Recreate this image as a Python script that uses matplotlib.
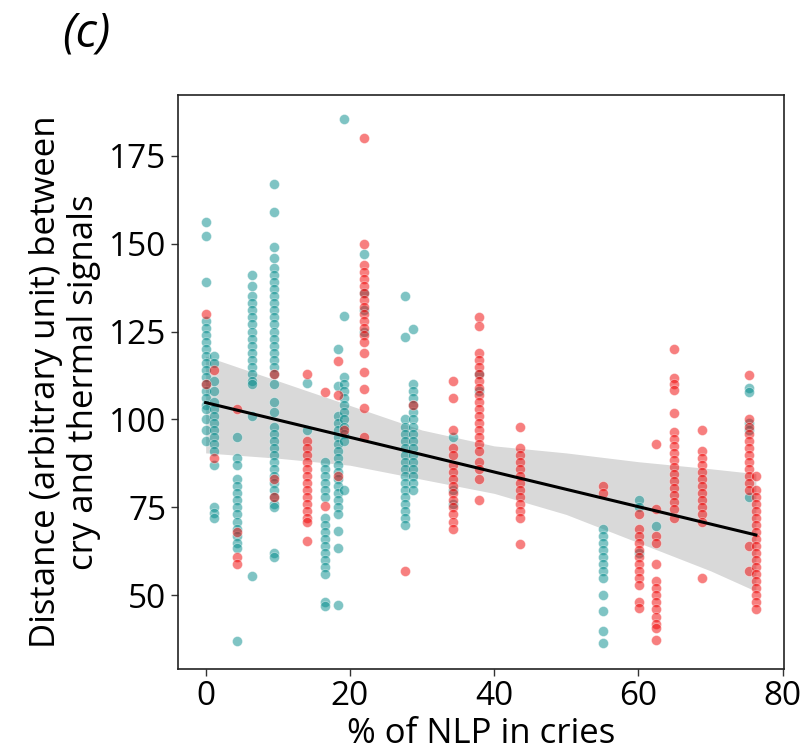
import matplotlib
matplotlib.use("Agg")
import matplotlib.pyplot as plt
import numpy as np

# ---- data ----
x_cols = [0.0, 1.2, 4.4, 6.4, 9.5, 14.1, 16.6, 18.4, 19.2, 21.9, 27.7,
          28.8, 34.3, 37.9, 43.6, 55.1, 60.1, 62.4, 64.9, 68.8, 75.4, 76.3]

teal_by_col = [
    [156, 152, 139, 128, 126, 124, 122, 120, 118, 116, 114, 112, 110, 108, 106, 104, 103, 100, 97, 94],
    [118, 116, 111, 108, 105, 103, 101, 99, 97, 95, 93, 91, 87, 75, 73.5, 72],
    [95, 89, 87, 83, 81, 79, 77, 75, 73, 71, 69, 67, 65, 63.5, 37],
    [141, 138, 135, 133, 131, 129, 127, 125, 123, 121, 119, 117, 115, 113, 111, 110, 101, 55.5],
    [167, 159, 149, 146, 143, 141, 139, 137, 135, 133, 131, 129, 127, 125, 123, 121, 119, 117, 115,
     113, 110, 105, 102, 98, 96, 94, 92, 90, 88, 86, 84, 82, 80, 78, 76, 75, 62, 61],
    [110.5, 97],
    [88, 86, 84, 82, 80, 78, 72, 70, 68, 66, 64, 62, 60, 58, 56, 48, 47],
    [120, 109.5, 101, 99, 97, 95, 93, 91, 89, 87, 85, 83, 81, 79, 77, 75, 73, 68.4, 63.6, 47.2],
    [185.5, 129.5, 112, 110, 108, 106, 104, 102, 100, 98, 96, 94, 80],
    [147, 136, 131, 125],
    [135, 123.4, 100, 98, 96, 94, 92, 90, 88, 86, 84, 82, 80, 78, 76, 74, 72, 70],
    [125.7, 110, 108, 106, 104, 102, 100, 98, 96, 94, 92, 90, 88, 86, 84, 82, 80],
    [95, 80, 76],
    [113, 108],
    [],
    [69, 67, 65, 63, 61, 59, 57, 55, 50, 45.5, 40, 36.5],
    [77, 75, 62],
    [69.6],
    [],
    [],
    [108.9, 107.9, 99, 97, 78],
    [],
]

red_by_col = [
    [130, 110],
    [114, 89],
    [103, 68, 61, 59],
    [],
    [113, 83, 78],
    [113, 94, 92, 90, 88, 86, 84, 82, 80, 78, 76, 74, 72, 71, 65.5],
    [107.9, 75.5],
    [116.6, 107, 84],
    [97],
    [180, 150, 144, 142, 140, 138, 136, 134, 132, 130, 128, 126, 124, 122, 119, 113.4, 108.7, 103.4, 95],
    [57],
    [104],
    [111, 106, 97, 92, 90, 87, 85, 83, 81, 79, 77, 75, 73, 71, 69],
    [129, 126.5, 119, 117, 115, 113, 111, 109, 107, 105, 103, 101, 99, 97, 95, 93, 91, 88, 86, 83, 77],
    [98, 92, 90, 88, 86, 84, 82, 80, 78, 76, 74, 72, 64.6],
    [81, 79],
    [73, 69, 67, 65, 63, 61, 59, 57, 55, 53, 48, 46.5],
    [93, 74.6, 67, 65, 59, 54, 52, 50, 48, 46, 44, 42, 40.8, 37.4],
    [120, 111.7, 110, 108.4, 101.8, 96.5, 94.5, 92.5, 90.5, 88.5, 86.5, 84.5, 82.5, 80.5, 78.5, 76.5, 74.5, 72],
    [97, 91, 89, 87, 85, 83, 81, 79, 77, 75, 73, 71, 55],
    [112.7, 100, 98, 96, 94, 92, 90, 88, 86, 84, 82, 80, 64, 57],
    [84, 80, 78, 76, 74, 72, 70, 68, 66, 64, 62, 60, 58, 56, 54, 52, 50, 48, 46],
]

# regression line (read) and its confidence band
fit_intercept = 104.8
fit_slope = -0.493
fit_x_range = [0.0, 76.3]
band_x = [0, 10, 20, 30, 40, 50, 60, 70, 76.3]
band_hi = [118, 111, 104, 97, 92.5, 90.5, 88, 86, 84.6]
band_lo = [90.5, 89, 87, 83, 79, 73, 65, 57, 51.2]

title_text = "(c)"
x_label = "% of NLP in cries"
y_label = "Distance (arbitrary unit) between\ncry and thermal signals"
x_ticks = [0, 20, 40, 60, 80]
y_ticks = [50, 75, 100, 125, 150, 175]

# ---- drawing ----
plt.rcParams['font.family'] = ['Open Sans', 'DejaVu Sans']

fig = plt.figure(figsize=(8.08, 7.53), dpi=100)
ax = fig.add_axes([0.2197, 0.1116, 0.7506, 0.7622])

teal_x = np.concatenate([[x] * len(v) for x, v in zip(x_cols, teal_by_col)])
teal_y = np.concatenate([np.asarray(v, float) for v in teal_by_col])
red_x = np.concatenate([[x] * len(v) for x, v in zip(x_cols, red_by_col)])
red_y = np.concatenate([np.asarray(v, float) for v in red_by_col])

ax.fill_between(band_x, band_lo, band_hi, color='black', alpha=0.15,
                linewidth=0, zorder=1)
ax.scatter(teal_x, teal_y, s=52, color='#008b8b', alpha=0.5,
           edgecolors='white', linewidths=0.5, zorder=2)
ax.scatter(red_x, red_y, s=52, color='#f00000', alpha=0.5,
           edgecolors='white', linewidths=0.5, zorder=2)
fx = np.array(fit_x_range)
ax.plot(fx, fit_intercept + fit_slope * fx, color='black', lw=2.2, zorder=3)

ax.set_xlim(-3.9, 80.2)
ax.set_ylim(29.1, 192.2)
ax.set_xticks(x_ticks)
ax.set_yticks(y_ticks)
ax.tick_params(labelsize=24, length=5, width=1, color='#333333', pad=3)
for sp in ax.spines.values():
    sp.set_color('#222222')
    sp.set_linewidth(1.2)

ax.set_xlabel(x_label, fontsize=25, labelpad=3)
ax.set_ylabel(y_label, fontsize=25, labelpad=6, linespacing=1.15)
fig.text(0.107, 0.955, title_text, fontsize=34, style='italic',
         ha='center', va='center')

fig.savefig("out.png", dpi=100)
